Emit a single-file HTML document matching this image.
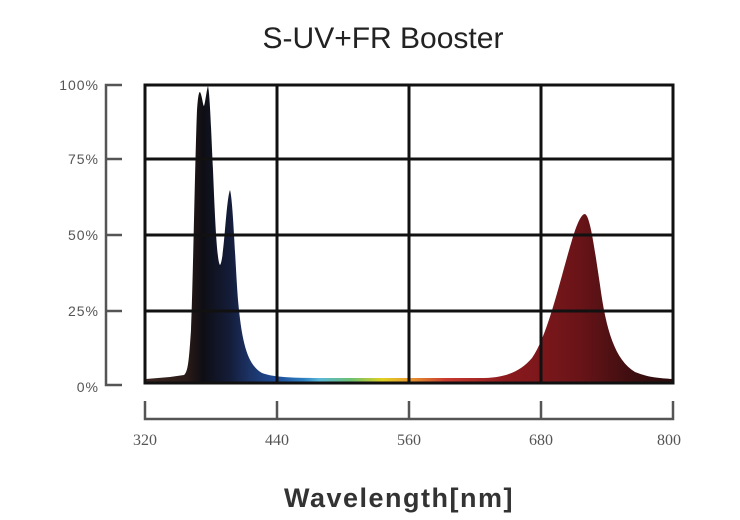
<!DOCTYPE html>
<html><head><meta charset="utf-8"><style>
html,body{margin:0;padding:0;background:#fff;}
svg{display:block}
</style></head><body>
<svg width="740" height="520" viewBox="0 0 740 520" xmlns="http://www.w3.org/2000/svg">
<defs>
<linearGradient id="g" x1="145" y1="0" x2="673" y2="0" gradientUnits="userSpaceOnUse">
<stop offset="0" stop-color="#3a2520"/>
<stop offset="0.08" stop-color="#2a1a18"/>
<stop offset="0.11" stop-color="#0e0e14"/>
<stop offset="0.16" stop-color="#141c38"/>
<stop offset="0.2" stop-color="#1c3468"/>
<stop offset="0.25" stop-color="#1f4c98"/>
<stop offset="0.3" stop-color="#2c7ec0"/>
<stop offset="0.33" stop-color="#5ab8d8"/>
<stop offset="0.39" stop-color="#6cc070"/>
<stop offset="0.45" stop-color="#e0d020"/>
<stop offset="0.5" stop-color="#e89a30"/>
<stop offset="0.57" stop-color="#c83a30"/>
<stop offset="0.68" stop-color="#8c1a1e"/>
<stop offset="0.82" stop-color="#6a1418"/>
<stop offset="0.92" stop-color="#3e0e10"/>
<stop offset="1" stop-color="#2a0c0c"/>
</linearGradient>
</defs>
<text x="383" y="48" text-anchor="middle" font-family="Liberation Sans, sans-serif" font-size="30" fill="#222">S-UV+FR Booster</text>
<!-- spectrum -->
<path fill="url(#g)" d="M146,383 L146,379 L170,377 L184,375 C188,372 189,360 191,330 C193,280 195,160 197,110 C198,95 199,92 200,92 C202,95 203,106 204,106 C205,104 207,88 208,86 C210,95 211,130 213,170 C215,220 217,262 220,265 C224,262 226,200 230,190 C233,200 235,260 238,300 C242,345 248,365 262,373 C275,378 300,378 330,378 L480,378 C505,378 520,372 532,358 C548,335 560,280 572,240 C578,220 582,214 585,214 C590,216 594,245 600,285 C606,330 615,360 635,372 C650,378 660,378 672,379 L672,383 Z"/>
<!-- grid -->
<g stroke="#111" stroke-width="3" fill="none">
<rect x="145" y="85" width="528" height="298"/>
<line x1="277" y1="85" x2="277" y2="383"/>
<line x1="409" y1="85" x2="409" y2="383"/>
<line x1="541" y1="85" x2="541" y2="383"/>
<line x1="145" y1="159" x2="673" y2="159"/>
<line x1="145" y1="235" x2="673" y2="235"/>
<line x1="145" y1="311" x2="673" y2="311"/>
</g>
<!-- y bracket -->
<g stroke="#555" stroke-width="2.5" fill="none">
<path d="M122,85 H106 V385 H122"/>
<line x1="106" y1="159" x2="122" y2="159"/>
<line x1="106" y1="235" x2="122" y2="235"/>
<line x1="106" y1="311" x2="122" y2="311"/>
</g>
<g font-family="Liberation Sans, sans-serif" font-size="14" fill="#555" text-anchor="end" letter-spacing="1">
<text x="99" y="90">100%</text>
<text x="99" y="164">75%</text>
<text x="99" y="240">50%</text>
<text x="99" y="316">25%</text>
<text x="99" y="392">0%</text>
</g>
<!-- x axis -->
<g stroke="#555" stroke-width="2.5" fill="none">
<path d="M145,401 V419 H673 V401"/>
<line x1="277" y1="401" x2="277" y2="419"/>
<line x1="409" y1="401" x2="409" y2="419"/>
<line x1="541" y1="401" x2="541" y2="419"/>
</g>
<g font-family="Liberation Serif, serif" font-size="16" fill="#555" text-anchor="middle">
<text x="145" y="445">320</text>
<text x="277" y="445">440</text>
<text x="409" y="445">560</text>
<text x="541" y="445">680</text>
<text x="669" y="445">800</text>
</g>
<text x="399" y="507" text-anchor="middle" font-family="Liberation Sans, sans-serif" font-weight="bold" font-size="27" letter-spacing="1.5" fill="#333">Wavelength[nm]</text>
</svg>
</body></html>
